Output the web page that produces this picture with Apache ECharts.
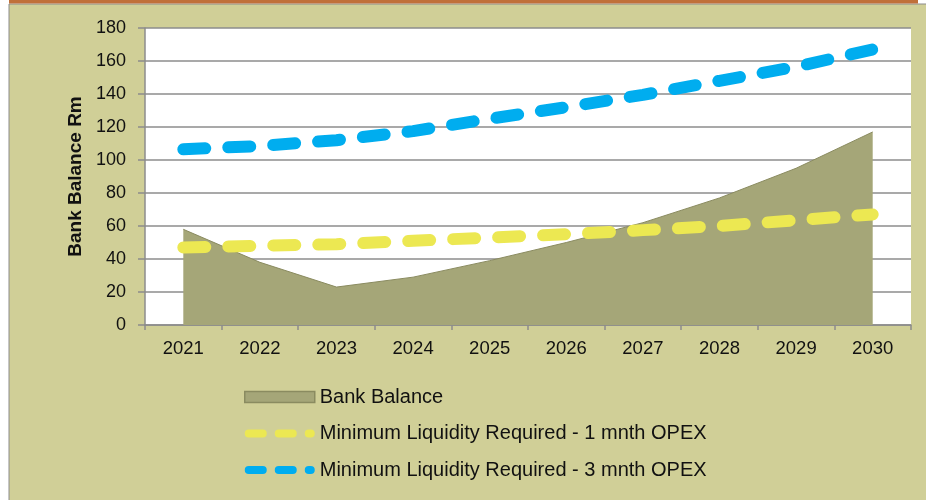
<!DOCTYPE html>
<html>
<head>
<meta charset="utf-8">
<script src="https://cdn.jsdelivr.net/npm/echarts@6/dist/echarts.min.js"></script>
<style>
  html, body { margin: 0; padding: 0; background: #fff; }
  #chart { width: 926px; height: 500px; }
</style>
</head>
<body>
<div id="chart"></div>
<script>
// years on the x axis
const years = ['2021', '2022', '2023', '2024', '2025', '2026', '2027', '2028', '2029', '2030']
// Rm values
const bankBalance = [58, 38, 23, 29, 39, 50, 62, 77, 95, 117]
const liquidity1m = [47, 48, 49, 51, 53, 55, 57.5, 60, 63.5, 67]
const liquidity3m = [106.5, 108.5, 112, 117.5, 125, 132, 139.5, 148, 156.5, 167]

const names = [
    'Bank Balance',
    'Minimum Liquidity Required - 1 mnth OPEX',
    'Minimum Liquidity Required - 3 mnth OPEX'
]

const font = 'Liberation Sans, Arial, sans-serif'

// legend icon: two rounded dashes and a dot (70 x 8)
function pill(x0, x1) {
    return 'M' + (x0 + 4) + ',0 H' + (x1 - 4) + ' A4,4 0 0 1 ' + (x1 - 4) + ',8 H' + (x0 + 4) +
        ' A4,4 0 0 1 ' + (x0 + 4) + ',0 Z '
}
const dashIcon = 'path://' + pill(0, 22) + pill(30, 52) + pill(60, 70)

const chart = echarts.init(document.getElementById('chart'))

const option = {
    backgroundColor: '#fff',
    animation: false,
    graphic: [
        // khaki panel with thin grey frame
        { type: 'rect', shape: { x: 9, y: 4, width: 930, height: 510 },
          style: { fill: '#d0cf97', stroke: '#8c8c8c', lineWidth: 1 }, z: -10 },
        // orange band at the top
        { type: 'rect', shape: { x: 9, y: 0, width: 909, height: 3.5 },
          style: { fill: '#c0703a' }, z: -9 }
    ],
    grid: {
        left: 145,
        right: 15,
        top: 28,
        bottom: 175,
        show: true,
        backgroundColor: '#fff',
        borderWidth: 0
    },
    legend: {
        orient: 'vertical',
        left: 244,
        top: 387,
        padding: 0,
        itemWidth: 70,
        itemHeight: 11,
        itemGap: 16.5,
        itemTextGap: 4,
        textStyle: { fontFamily: font, fontSize: 20, color: '#111' },
        data: [
            { name: names[0], icon: 'rect',
              itemStyle: { color: '#a5a678', borderColor: '#8a8b60', borderWidth: 1.5 } },
            { name: names[1], icon: dashIcon },
            { name: names[2], icon: dashIcon }
        ]
    },
    xAxis: {
        type: 'category',
        data: years,
        boundaryGap: true,
        axisLine: { lineStyle: { color: '#8c8c8c', width: 1.5 } },
        axisTick: { show: true, length: 5, lineStyle: { color: '#8c8c8c', width: 1.5 } },
        axisLabel: { fontFamily: font, fontSize: 18.5, color: '#111', margin: 14 }
    },
    yAxis: {
        type: 'value',
        min: 0,
        max: 180,
        interval: 20,
        name: 'Bank Balance Rm',
        nameLocation: 'middle',
        nameGap: 60,
        nameTextStyle: { fontFamily: font, fontSize: 19, fontWeight: 'bold', color: '#111' },
        axisLine: { show: true, lineStyle: { color: '#8c8c8c', width: 1.5 } },
        axisTick: { show: true, length: 7, lineStyle: { color: '#8c8c8c', width: 1.5 } },
        axisLabel: { fontFamily: font, fontSize: 18, color: '#111', margin: 19 },
        splitLine: { lineStyle: { color: '#8c8c8c', width: 1.5 } }
    },
    series: [
        {
            name: names[0],
            type: 'line',
            data: bankBalance,
            symbol: 'none',
            color: '#a5a678',
            lineStyle: { color: '#8a8b60', width: 1 },
            areaStyle: { color: '#a5a678', opacity: 1 },
            z: 2
        },
        {
            name: names[1],
            type: 'line',
            data: liquidity1m,
            symbol: 'none',
            color: '#ece852',
            lineStyle: { color: '#ece852', width: 12, type: [22, 23], cap: 'round' },
            z: 3
        },
        {
            name: names[2],
            type: 'line',
            data: liquidity3m,
            symbol: 'none',
            color: '#00adef',
            lineStyle: { color: '#00adef', width: 12, type: [22, 23], cap: 'round' },
            z: 4
        }
    ]
}

chart.setOption(option)
</script>
</body>
</html>
